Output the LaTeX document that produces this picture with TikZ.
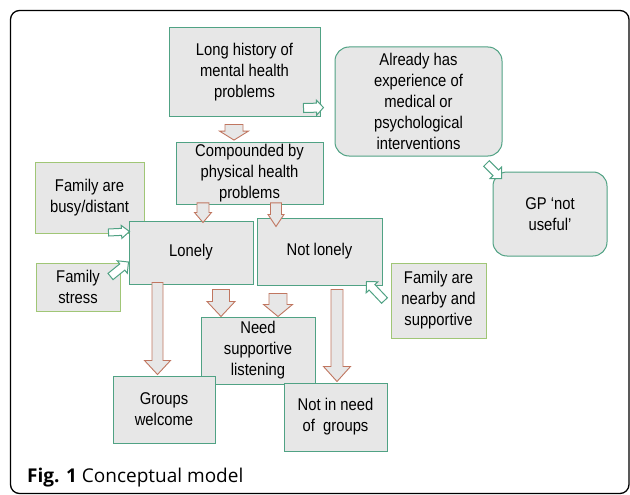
\documentclass[tikz,border=0pt]{standalone}
\usepackage{fontspec}
\setmainfont{Liberation Sans}[FakeStretch=0.87]
\newfontfamily\capfont{Open Sans}
\usetikzlibrary{calc}

\definecolor{boxgray}{RGB}{231,231,231}
\definecolor{boxteal}{RGB}{80,162,132}
\definecolor{famgreen}{RGB}{160,198,118}
\definecolor{arrbrown}{RGB}{192,118,96}

\newcommand{\boxfont}{\fontsize{17}{21}\selectfont}

% block arrow: style, from, to, half shaft, half head, head length
\newcommand{\blockarrow}[6]{%
  \coordinate (ba-s) at (#2);
  \coordinate (ba-t) at (#3);
  \coordinate (ba-h) at ($(ba-t)!#6!(ba-s)$);
  \draw[#1] ($(ba-s)!#4!90:(ba-t)$) -- ($(ba-h)!#4!-90:(ba-s)$)
    -- ($(ba-h)!#5!-90:(ba-s)$) -- (ba-t) -- ($(ba-h)!#5!90:(ba-s)$)
    -- ($(ba-h)!#4!90:(ba-s)$) -- ($(ba-s)!#4!-90:(ba-t)$) -- cycle;
}

\begin{document}
\begin{tikzpicture}[x=1pt,y=-1pt,
    box/.style={draw=boxteal,fill=boxgray,line width=1pt,align=center,
                font=\boxfont,inner sep=2pt},
    fambox/.style={box,draw=famgreen},
    roundbox/.style={box,rounded corners=14pt},
    brownarr/.style={draw=arrbrown,fill=boxgray,line width=0.9pt},
    greenarr/.style={draw=boxteal,fill=white,line width=1pt}]

        \useasboundingbox (0,0) rectangle (630,495);
        \draw[line width=1.3pt,rounded corners=9pt] (10.5,10.5) rectangle (629,493.5);

        \node[box]       (hist)      at (244.5,72.5) [minimum width=151pt,minimum height=89pt]
                         {Long history of\\mental health\\problems};
        \node[roundbox]  (exper)     at (418.5,101.5) [minimum width=167pt,minimum height=109pt]
                         {Already has\\experience of\\medical or\\psychological\\interventions};
        \node[roundbox]  (gp)        at (550,214) [minimum width=114pt,minimum height=84pt]
                         {GP ‘not\\useful’};
        \node[box]       (comp)      at (249.5,173.5) [minimum width=147pt,minimum height=61pt]
                         {Compounded by\\physical health\\problems};
        \node[fambox]    (busy)      at (89.5,197.5) [minimum width=109pt,minimum height=71pt]
                         {Family are\\busy/distant};
        \node[box]       (lonely)    at (191,252.5) [minimum width=124pt,minimum height=63pt]
                         {Lonely};
        \node[box]       (notlonely) at (319.5,251.5) [minimum width=125pt,minimum height=67pt]
                         {Not lonely};
        \node[fambox]    (stress)    at (78,287) [minimum width=84pt,minimum height=48pt]
                         {Family\\stress};
        \node[fambox]    (nearby)    at (438.5,300.5) [minimum width=95pt,minimum height=75pt]
                         {Family are\\nearby and\\supportive};
        \node[box]       (need)      at (258,350.5) [minimum width=114pt,minimum height=67pt]
                         {Need\\supportive\\listening};
        \node[box]       (welcome)   at (164,409.5) [minimum width=102pt,minimum height=67pt]
                         {Groups\\welcome};
        \node[box]       (notneed)   at (335.5,417) [minimum width=103pt,minimum height=68pt]
                         {Not in need\\of~~groups};

        % brown arrows
        \blockarrow{brownarr}{[xshift=-10.5pt,yshift=-7pt]hist.south}{[xshift=-15.5pt,yshift=2pt]comp.north}{9pt}{14.5pt}{9pt}
        \blockarrow{brownarr}{[xshift=-46.5pt,yshift=2pt]comp.south}{[xshift=12pt,yshift=-2pt]lonely.north}{6pt}{8.5pt}{10pt}
        \blockarrow{brownarr}{[xshift=26.5pt,yshift=2pt]comp.south}{[xshift=-43.5pt,yshift=-9pt]notlonely.north}{5.5pt}{8pt}{12pt}
        \blockarrow{brownarr}{[xshift=30pt,yshift=-5pt]lonely.south}{[xshift=-37pt]need.north}{8.5pt}{14pt}{15pt}
        \blockarrow{brownarr}{[xshift=-41.5pt,yshift=-8pt]notlonely.south}{[xshift=20pt]need.north}{9pt}{14.5pt}{12pt}
        \blockarrow{brownarr}{[xshift=-33.5pt,yshift=2pt]lonely.south}{[xshift=-6.5pt,yshift=1pt]welcome.north}{5.5pt}{13pt}{14pt}
        \blockarrow{brownarr}{[xshift=17.5pt,yshift=-4pt]notlonely.south}{[xshift=1.5pt,yshift=1pt]notneed.north}{6pt}{13.5pt}{15pt}

        % green arrows
        \blockarrow{greenarr}{[xshift=-17pt,yshift=9.5pt]hist.south east}{[xshift=-11pt,yshift=-6pt]exper.west}{4.5pt}{7.5pt}{7pt}
        \blockarrow{greenarr}{[xshift=-16pt,yshift=-7pt]exper.south east}{[xshift=9pt,yshift=-7pt]gp.north west}{4pt}{8pt}{8pt}
        \blockarrow{greenarr}{[xshift=-36pt,yshift=1pt]busy.south east}{[xshift=1pt,yshift=-11pt]lonely.north west}{3.5pt}{6.5pt}{8pt}
        \blockarrow{greenarr}{[xshift=-10pt,yshift=-14pt]stress.north east}{[yshift=-9.5pt]lonely.west}{4pt}{8pt}{8pt}
        \blockarrow{greenarr}{[xshift=-6pt]nearby.west}{[xshift=-16pt,yshift=4pt]notlonely.south east}{4pt}{8pt}{8pt}

        \node[anchor=west,inner sep=0pt,font=\capfont\fontsize{19}{22}\selectfont] (cap) at (27,478)
             {\textbf{Fig. 1} Conceptual model};
\end{tikzpicture}
\end{document}
